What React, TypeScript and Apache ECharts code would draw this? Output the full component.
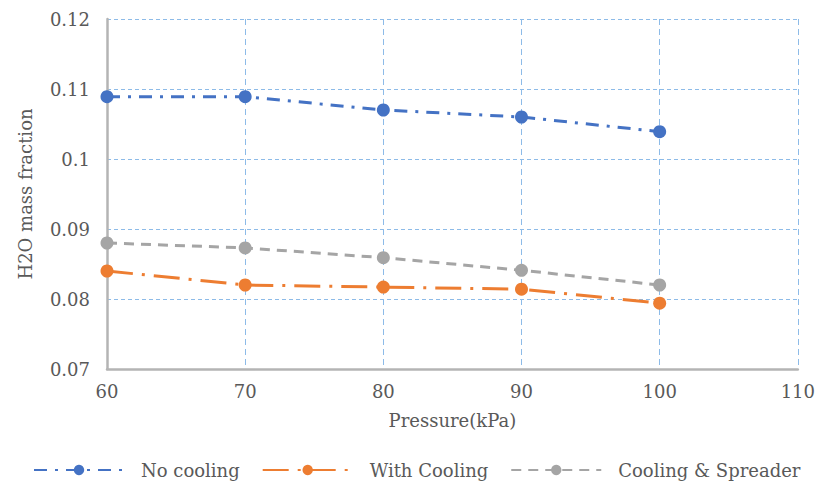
import React, { useEffect, useRef } from "react";
import * as echarts from "echarts";

const pressures = [60, 70, 80, 90, 100];
const noCooling = [0.1089, 0.1089, 0.107, 0.106, 0.1039];
const withCooling = [0.084, 0.082, 0.0817, 0.0814, 0.0794];
const coolingSpreader = [0.088, 0.0873, 0.0859, 0.0841, 0.082];
const seriesNames = ["No cooling", "With Cooling", "Cooling & Spreader"];

const FONT = "'DejaVu Serif', 'Liberation Serif', serif";
const TEXT = "#595959";
const GRID = "#8DBBE8";
const FS = 18;

const pairs = (ys: number[]) => pressures.map((x, i) => [x, ys[i]]);

export default function App() {
  const ref = useRef<HTMLDivElement>(null);
  useEffect(() => {
    if (!ref.current) return;
    const chart = echarts.init(ref.current, undefined, { renderer: "svg" });
    const mk = (name: string, data: number[], color: string, dash: number[]) => ({
      name,
      type: "line",
      data: pairs(data),
      symbol: "circle",
      symbolSize: 13,
      itemStyle: { color },
      lineStyle: { color, width: 3, type: dash },
    });
    chart.setOption({
      animation: false,
      textStyle: { fontFamily: FONT },
      grid: { left: 98, right: 12, top: 11, bottom: 119 },
      xAxis: {
        type: "value",
        min: 60,
        max: 110,
        interval: 10,
        name: "Pressure(kPa)",
        nameLocation: "middle",
        nameGap: 42,
        nameTextStyle: { color: TEXT, fontSize: FS, fontFamily: FONT },
        axisLine: { show: true, lineStyle: { color: "#B4B4B4", width: 2.5 } },
        axisTick: { show: false },
        axisLabel: { color: TEXT, fontSize: FS, margin: 13, fontFamily: FONT },
        splitLine: { show: true, lineStyle: { color: GRID, type: [6, 4], width: 1 } },
      },
      yAxis: {
        type: "value",
        min: 0.07,
        max: 0.12,
        interval: 0.01,
        name: "H2O mass fraction",
        nameLocation: "middle",
        nameGap: 73,
        nameTextStyle: { color: TEXT, fontSize: FS, fontFamily: FONT },
        axisLine: { show: true, lineStyle: { color: "#B4B4B4", width: 2.5 } },
        axisTick: { show: false },
        axisLabel: {
          color: TEXT,
          fontSize: FS,
          margin: 17,
          fontFamily: FONT,
          formatter: (v: number) => String(parseFloat(v.toFixed(3))),
        },
        splitLine: { show: true, lineStyle: { color: GRID, type: [4, 3], width: 1 } },
      },
      legend: {
        data: seriesNames,
        top: 448,
        left: 20,
        itemWidth: 90,
        itemHeight: 13,
        itemGap: 22,
        textStyle: {
          color: TEXT,
          fontSize: FS,
          fontFamily: FONT,
          padding: [0, 0, 0, 12],
        },
      },
      series: [
        mk(seriesNames[0], noCooling, "#4472C4", [13, 8, 3, 8]),
        mk(seriesNames[1], withCooling, "#ED7D31", [26, 9, 3, 9]),
        mk(seriesNames[2], coolingSpreader, "#A5A5A5", [10, 7]),
      ],
    });
    return () => chart.dispose();
  }, []);
  return <div ref={ref} style={{ width: 810, height: 480 }} />;
}
